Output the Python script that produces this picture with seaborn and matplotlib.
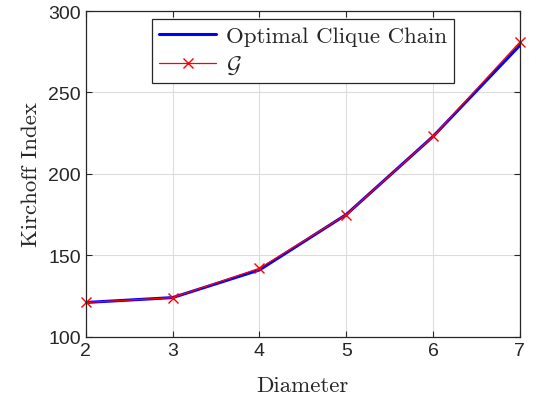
import pandas as pd
import matplotlib
matplotlib.use("Agg")
import matplotlib.pyplot as plt
import seaborn as sns

diameter = [2, 3, 4, 5, 6, 7]
clique_chain = [121, 124, 141, 175, 223, 279]
graph_g = [121, 124, 142, 175, 223, 281]

sns.set_style("whitegrid")
plt.rcParams['font.family'] = ['Liberation Sans', 'DejaVu Sans']
plt.rcParams['mathtext.fontset'] = 'cm'

fig, ax = plt.subplots(figsize=(5.36, 4.02), dpi=100)
fig.subplots_adjust(left=0.16, right=0.97, top=0.97, bottom=0.16)

df = pd.DataFrame({'Diameter': diameter, 'occ': clique_chain, 'g': graph_g})
sns.lineplot(data=df, x='Diameter', y='occ', ax=ax, color='#0000ff', linewidth=2.2,
             label='Optimal Clique Chain')
sns.lineplot(data=df, x='Diameter', y='g', ax=ax, color='#ff0000', linewidth=0.9,
             marker='x', markersize=7, markeredgewidth=1.0, markeredgecolor='#ff0000',
             label=r'$\mathcal{G}$', clip_on=False)

ax.set_xlim(2, 7)
ax.set_ylim(100, 300)
ax.set_xticks(diameter)
ax.set_yticks([100, 150, 200, 250, 300])
ax.tick_params(labelsize=14, colors='#262626', length=4, direction='in',
               bottom=True, left=True, top=True, right=True)
ax.grid(True, color='#dcdcdc', linewidth=0.8)
for s in ax.spines.values():
    s.set_color('#262626')
    s.set_linewidth(0.9)

serif = ['cmr10', 'DejaVu Serif']
ax.set_xlabel('Diameter', fontsize=16.5, family=serif, color='#262626', labelpad=12)
ax.set_ylabel('Kirchoff Index', fontsize=16.5, family=serif, color='#262626', labelpad=5)

leg = ax.legend(loc='upper center', bbox_to_anchor=(0.5, 0.975), fancybox=False,
                framealpha=1, edgecolor='#262626', handlelength=2.5,
                prop={'family': serif, 'size': 16.5}, borderpad=0.3, labelspacing=0.35,
                handletextpad=0.4, borderaxespad=0)
leg.get_frame().set_linewidth(0.9)

fig.savefig('out.png', dpi=100)
